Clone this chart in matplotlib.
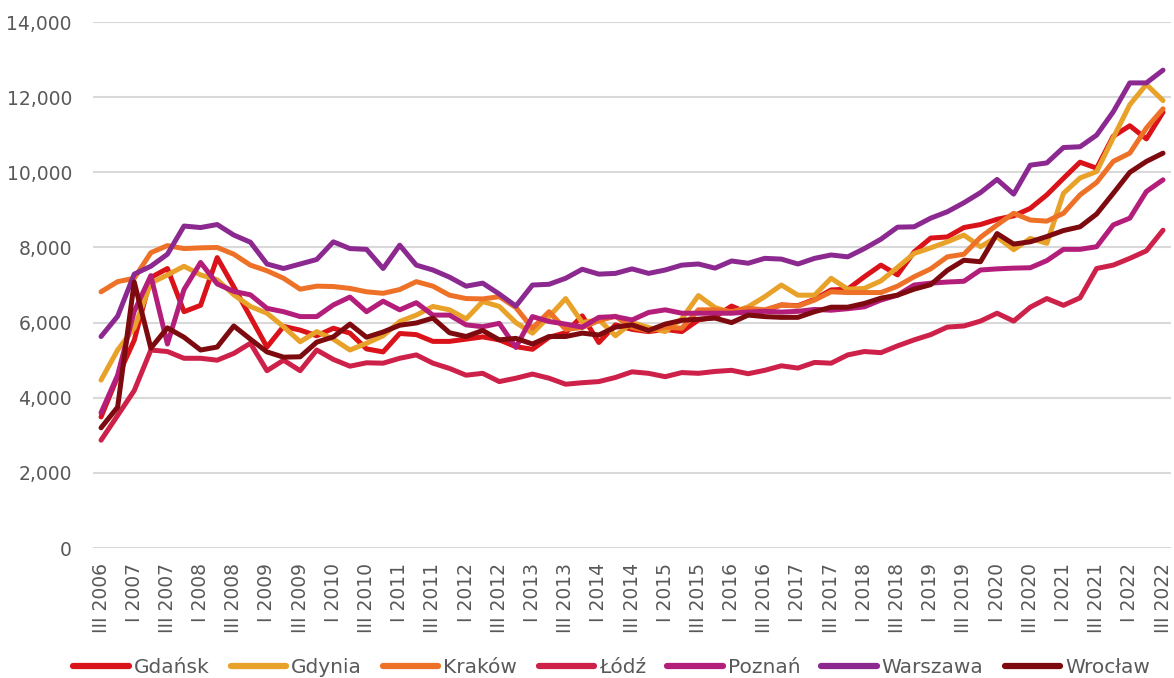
import matplotlib
matplotlib.use("Agg")
import matplotlib.pyplot as plt
from matplotlib.ticker import StrMethodFormatter

plt.rcParams['font.family'] = ['DejaVu Sans']

roman = ["I", "II", "III", "IV"]
quarters = []
for yr in range(2006, 2023):
    for q in range(4):
        if (yr == 2006 and q < 2) or (yr == 2022 and q > 2):
            continue
        quarters.append(f"{roman[q]} {yr}")

gdansk = [3490, 4560, 5530, 7200, 7440, 6290, 6460, 7730, 6950, 6150,
          5350, 5900, 5800, 5650, 5850, 5720, 5300, 5220, 5710, 5680,
          5500, 5500, 5560, 5620, 5540, 5360, 5290, 5610, 5730, 6180,
          5470, 5940, 5820, 5760, 5820, 5760, 6070, 6150, 6440, 6250,
          6320, 6470, 6450, 6620, 6870, 6890, 7220, 7530, 7270, 7880,
          8250, 8280, 8530, 8610, 8750, 8840, 9040, 9400, 9840, 10270,
          10110, 10960, 11240, 10890, 11600]
gdynia = [4470, 5270, 5860, 7050, 7270, 7500, 7270, 7140, 6740, 6430,
          6250, 5890, 5490, 5760, 5560, 5270, 5450, 5650, 6030, 6200,
          6430, 6340, 6100, 6560, 6430, 6000, 5720, 6160, 6640, 6000,
          6080, 5650, 6000, 5870, 5760, 6100, 6720, 6400, 6270, 6420,
          6690, 7000, 6730, 6730, 7180, 6890, 6910, 7110, 7470, 7840,
          7990, 8150, 8330, 8020, 8280, 7940, 8240, 8110, 9440, 9850,
          10020, 10920, 11800, 12340, 11910]
krakow = [6820, 7090, 7180, 7860, 8050, 7970, 7990, 8000, 7820, 7530,
          7380, 7180, 6890, 6970, 6960, 6910, 6820, 6780, 6880, 7090,
          6970, 6730, 6640, 6630, 6690, 6400, 5850, 6290, 5820, 5870,
          6050, 6170, 5870, 5780, 5880, 5850, 6340, 6340, 6290, 6380,
          6340, 6470, 6440, 6600, 6820, 6800, 6800, 6800, 6970, 7220,
          7430, 7750, 7820, 8270, 8600, 8910, 8730, 8700, 8910, 9400,
          9730, 10290, 10510, 11180, 11690]
lodz = [2870, 3530, 4190, 5270, 5230, 5050, 5050, 5000, 5180, 5450,
        4720, 5000, 4720, 5270, 5020, 4840, 4930, 4920, 5050, 5140,
        4920, 4780, 4600, 4650, 4430, 4520, 4630, 4520, 4360, 4400,
        4430, 4540, 4690, 4650, 4560, 4670, 4650, 4700, 4730, 4640,
        4730, 4850, 4790, 4940, 4920, 5140, 5230, 5200, 5380, 5540,
        5680, 5880, 5910, 6040, 6250, 6040, 6410, 6640, 6460, 6660,
        7440, 7530, 7710, 7910, 8460]
poznan = [3600, 4600, 6300, 7250, 5430, 6880, 7600, 7030, 6830, 6740,
          6380, 6290, 6160, 6160, 6470, 6680, 6290, 6570, 6340, 6530,
          6200, 6200, 5940, 5890, 5980, 5340, 6160, 6030, 5960, 5880,
          6140, 6160, 6070, 6270, 6340, 6250, 6250, 6250, 6250, 6280,
          6300, 6280, 6300, 6350, 6330, 6370, 6420, 6600, 6730, 7000,
          7050, 7080, 7100, 7400, 7430, 7450, 7460, 7650, 7950, 7950,
          8020, 8600, 8780, 9490, 9800]
warszawa = [5630, 6170, 7290, 7500, 7820, 8570, 8530, 8610, 8330, 8140,
            7560, 7440, 7560, 7680, 8150, 7970, 7950, 7440, 8060, 7530,
            7400, 7210, 6970, 7050, 6760, 6440, 7000, 7020, 7180, 7420,
            7290, 7310, 7430, 7310, 7400, 7530, 7560, 7450, 7640, 7580,
            7710, 7690, 7560, 7710, 7800, 7750, 7970, 8220, 8540, 8550,
            8780, 8950, 9190, 9460, 9810, 9420, 10190, 10250, 10660, 10680,
            10990, 11610, 12380, 12380, 12720]
wroclaw = [3200, 3750, 7080, 5320, 5860, 5610, 5270, 5350, 5910, 5560,
           5220, 5080, 5090, 5480, 5620, 5960, 5610, 5750, 5930, 5990,
           6120, 5730, 5630, 5790, 5540, 5580, 5430, 5630, 5630, 5720,
           5670, 5880, 5940, 5790, 5960, 6060, 6090, 6120, 6000, 6200,
           6160, 6140, 6140, 6290, 6410, 6410, 6510, 6650, 6730, 6890,
           7010, 7390, 7660, 7620, 8370, 8090, 8150, 8290, 8450, 8550,
           8890, 9440, 10000, 10290, 10510]

cities = ["Gdańsk", "Gdynia", "Kraków", "Łódź", "Poznań", "Warszawa", "Wrocław"]
series = [gdansk, gdynia, krakow, lodz, poznan, warszawa, wroclaw]
colors = ["#DA1219", "#E9A229", "#EE7128", "#CE2149", "#B41E7B", "#8B2990", "#7C0A0E"]

grey = "#595959"
fig = plt.figure(figsize=(11.74, 6.78), dpi=100)
ax = fig.add_axes([0.079, 0.1917, 0.9187, 0.7758])

x = list(range(len(quarters)))
for name, vals, c in zip(cities, series, colors):
    ax.plot(x, vals, color=c, lw=3.6, label=name,
            solid_joinstyle='round', solid_capstyle='round')

ax.set_xlim(-0.5, len(quarters) - 0.5)
ax.set_ylim(0, 14000)
ax.set_yticks(range(0, 14001, 2000))
ax.yaxis.set_major_formatter(StrMethodFormatter('{x:,.0f}'))
ax.set_xticks(x[::2])
ax.set_xticklabels(quarters[::2], rotation=90, va='top', ha='center')

ax.grid(axis='y', color='#D9D9D9', lw=1.5)
ax.set_axisbelow(True)
for s in ax.spines.values():
    s.set_visible(False)
ax.tick_params(axis='both', length=0, colors=grey, labelsize=13.5)
ax.tick_params(axis='y', pad=15)
ax.tick_params(axis='x', pad=11)

leg = fig.legend(loc='center', bbox_to_anchor=(0.521, 0.015), ncol=7,
                 frameon=False, fontsize=14.5, handlelength=2.75,
                 handletextpad=0.25, columnspacing=1.05)
for t in leg.get_texts():
    t.set_color(grey)
for h in leg.legend_handles:
    h.set_linewidth(4.5)
    h.set_solid_capstyle('round')

fig.savefig("out.png", dpi=100)
